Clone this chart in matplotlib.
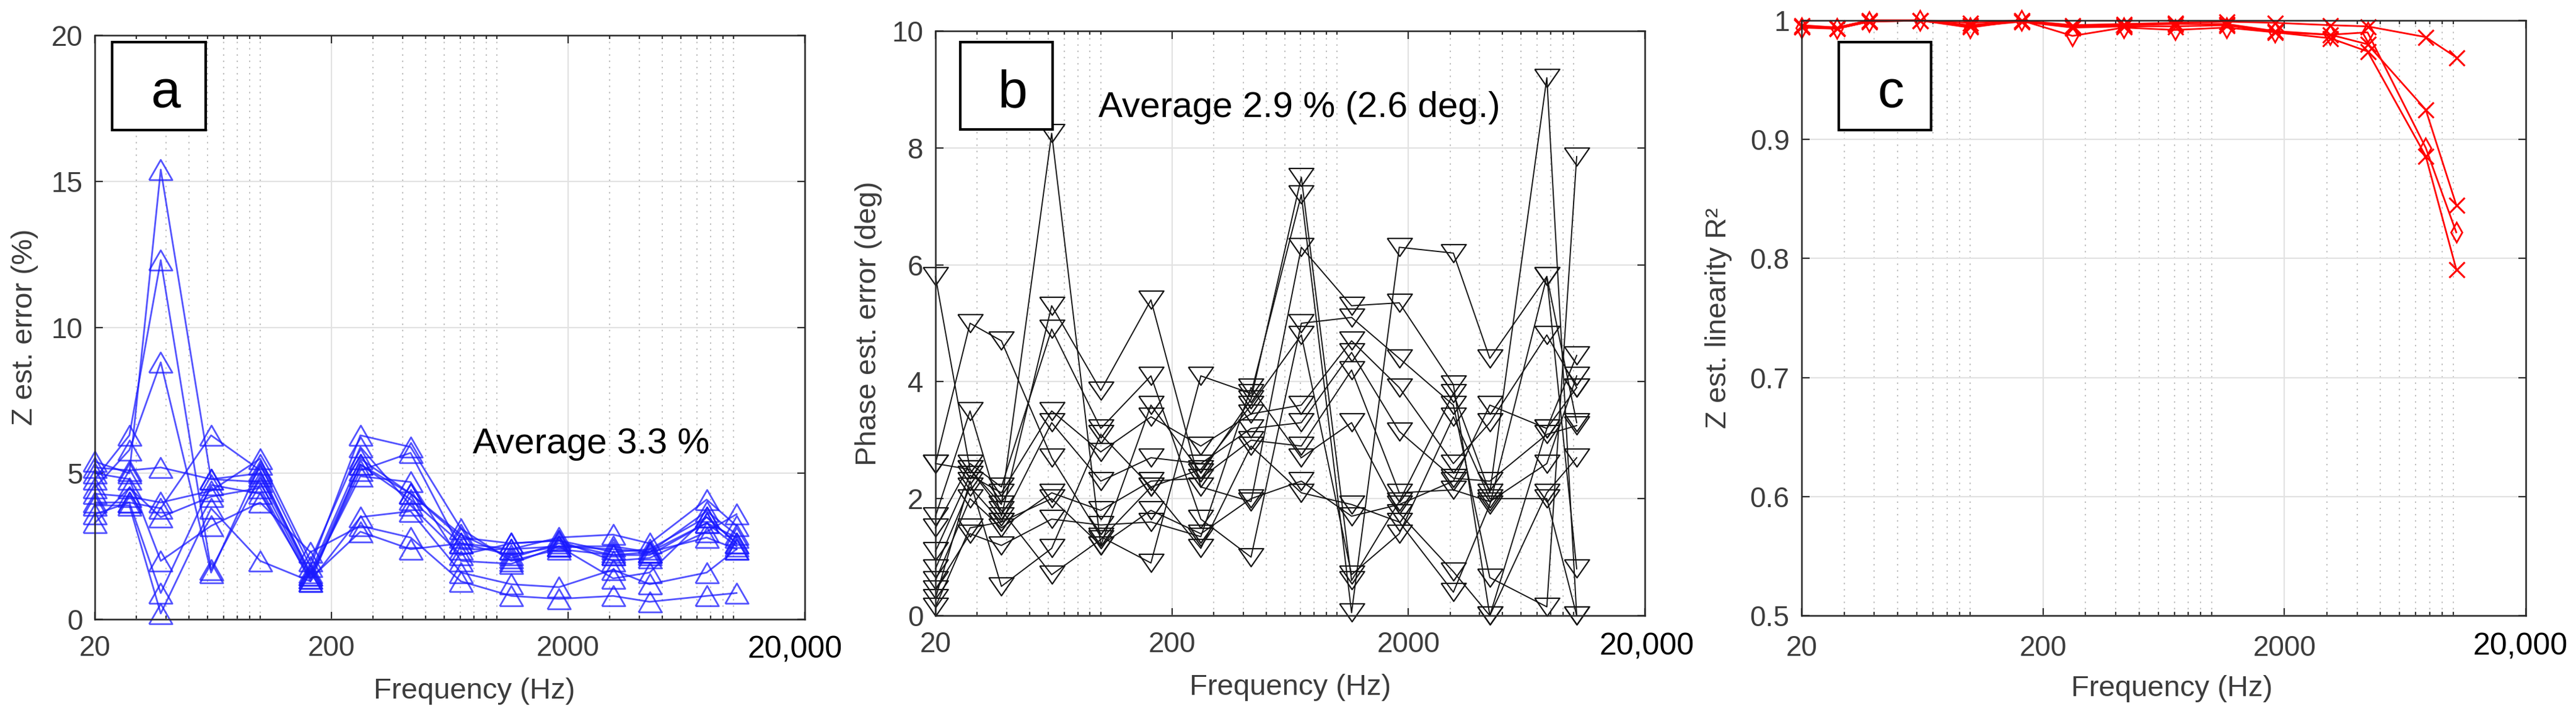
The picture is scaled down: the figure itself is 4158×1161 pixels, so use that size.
import numpy as np
import matplotlib.pyplot as plt
from matplotlib.patches import Rectangle
from matplotlib.ticker import FixedLocator, FixedFormatter, NullFormatter, NullLocator, FuncFormatter

plt.rcParams['font.family'] = ['Liberation Sans', 'DejaVu Sans']

W, H = 4158, 1161

# measurement frequencies (Hz), same for all three panels
freq = [20, 28, 38, 62, 100, 163, 265, 432, 705, 1150, 1830, 3100, 4420, 7700, 10300]

# panel a: Z estimation error (%)
z_err = [
    [5.4, 5.0, 15.4, 4.8, 5.0, 1.6, 5.5, 4.3, 2.8, 2.6, 2.7, 2.3, 2.4, 3.5, 2.6],
    [4.8, 6.3, 12.3, 1.7, 4.9, 1.5, 5.3, 4.1, 2.6, 2.2, 2.5, 2.5, 2.3, 3.7, 2.9],
    [4.5, 5.8, 8.8, 1.6, 5.3, 1.8, 6.3, 5.9, 3.1, 2.0, 2.4, 2.2, 2.2, 3.3, 2.5],
    [5.2, 5.1, 5.2, 4.8, 4.7, 1.4, 5.1, 5.7, 2.4, 2.4, 2.8, 2.9, 2.6, 4.1, 3.2],
    [4.3, 4.2, 4.0, 4.4, 5.5, 2.0, 5.9, 3.9, 2.2, 2.6, 2.7, 2.0, 2.1, 3.0, 3.6],
    [3.6, 4.0, 3.8, 6.3, 5.1, 1.5, 4.9, 4.7, 2.0, 1.9, 2.5, 2.4, 2.3, 2.8, 2.4],
    [3.3, 4.5, 3.5, 4.2, 4.5, 1.3, 3.5, 3.7, 1.6, 1.2, 1.1, 1.7, 1.2, 1.6, 2.4],
    [5.0, 4.8, 2.0, 3.2, 4.0, 2.3, 3.2, 2.8, 1.3, 0.8, 0.7, 0.8, 0.6, 0.8, 0.9],
    [4.0, 4.0, 0.9, 4.6, 4.3, 1.4, 3.0, 2.4, 2.6, 2.4, 2.5, 1.4, 1.6, 3.5, 2.6],
    [3.9, 3.9, 0.2, 3.8, 2.0, 1.3, 5.3, 4.3, 2.9, 2.1, 2.6, 2.2, 2.3, 3.3, 2.8],
]

# panel b: phase estimation error (deg)
ph_err = [
    [5.8, 2.5, 1.9, 8.25, 1.2, 3.6, 2.45, 3.7, 7.5, 0.6, 1.95, 3.8, 2.1, 9.2, 0.0],
    [2.6, 5.0, 4.7, 2.7, 1.35, 0.9, 4.1, 3.8, 7.2, 0.05, 6.3, 6.2, 4.4, 5.8, 0.8],
    [1.7, 3.5, 1.7, 5.3, 3.85, 5.4, 2.2, 1.95, 6.3, 5.3, 5.35, 3.95, 0.0, 3.2, 4.45],
    [1.5, 2.6, 2.2, 4.9, 3.2, 4.1, 1.65, 1.0, 5.0, 5.1, 4.4, 3.6, 0.65, 0.15, 7.85],
    [1.1, 2.4, 2.1, 3.5, 2.8, 3.4, 2.9, 3.45, 3.6, 4.7, 3.9, 2.6, 3.3, 4.8, 3.9],
    [0.8, 2.2, 1.6, 3.3, 2.3, 2.7, 2.6, 3.2, 3.3, 4.5, 3.15, 2.35, 2.3, 3.1, 3.25],
    [0.6, 2.0, 1.5, 2.1, 1.8, 2.3, 2.35, 3.0, 2.9, 4.2, 2.1, 2.15, 1.95, 2.6, 4.1],
    [0.45, 1.4, 1.2, 1.65, 1.55, 1.6, 1.35, 3.9, 2.7, 3.3, 1.75, 0.75, 0.0, 2.1, 2.7],
    [0.3, 2.3, 0.5, 1.15, 3.1, 2.2, 1.15, 2.9, 2.1, 1.9, 1.6, 0.4, 1.9, 5.8, 3.3],
    [2.6, 2.5, 1.8, 0.7, 1.3, 2.2, 2.5, 3.6, 4.8, 0.7, 1.4, 3.4, 2.0, 2.0, 0.0],
    [0.15, 1.5, 1.6, 2.0, 1.2, 1.8, 1.4, 2.0, 2.3, 1.7, 1.9, 2.3, 3.6, 3.2, 3.9],
]

# panel c: Z estimation linearity R^2
r2 = [
    [0.996, 0.994, 1.0, 1.0, 0.998, 1.0, 0.996, 0.997, 0.998, 0.999, 0.998, 0.996, 0.995, 0.986, 0.969],
    [0.995, 0.994, 1.0, 1.0, 0.996, 1.0, 0.995, 0.996, 0.997, 0.997, 0.991, 0.988, 0.980, 0.925, 0.845],
    [0.995, 0.993, 0.999, 1.0, 0.995, 0.999, 0.994, 0.995, 0.995, 0.996, 0.990, 0.985, 0.974, 0.886, 0.791],
]
r2_diamond = [0.994, 0.993, 0.999, 1.0, 0.994, 1.0, 0.987, 0.994, 0.992, 0.994, 0.990, 0.988, 0.990, 0.893, 0.822]

minor_x = [30, 40, 50, 60, 70, 80, 90, 100, 300, 400, 500, 600, 700, 800, 900, 1000,
           3000, 4000, 5000, 6000, 7000, 8000, 9000, 10000]

tick_col = '#3c3c3c'
tri_up = [(-1, -0.87), (1, -0.87), (0, 0.87), (-1, -0.87)]
tri_down = [(-1, 0.72), (1, 0.72), (0, -0.72), (-1, 0.72)]


def fig_rect(x0, y0, x1, y1):
    # pixel box -> figure fraction [left, bottom, width, height]
    return [x0 / W, 1 - y1 / H, (x1 - x0) / W, (y1 - y0) / H]


def style_axes(ax, ylim, yticks, ylabel, xlab_x, ylab_x, tick_y, end_x):
    ax.set_xscale('log')
    ax.set_xlim(20, 20000)
    ax.set_ylim(*ylim)
    ax.xaxis.set_major_locator(FixedLocator([20, 200, 2000, 20000]))
    ax.xaxis.set_major_formatter(FixedFormatter(['20', '200', '2000', '']))
    ax.xaxis.set_minor_locator(FixedLocator(minor_x))
    ax.xaxis.set_minor_formatter(NullFormatter())
    ax.yaxis.set_major_locator(FixedLocator(yticks))
    ax.yaxis.set_major_formatter(FuncFormatter(lambda v, p: '%g' % v))
    ax.yaxis.set_minor_locator(NullLocator())
    ax.set_axisbelow(True)
    ax.grid(True, which='major', color='#e2e2e2', lw=1.6, ls='-')
    ax.grid(True, which='minor', axis='x', color='#bdbdbd', lw=1.4, ls=(0, (1.2, 4)))
    ax.tick_params(which='both', direction='in', top=True, right=True,
                   width=1.6, color='#303030', labelcolor=tick_col, labelsize=33)
    ax.tick_params(which='major', length=9)
    ax.tick_params(which='minor', length=4.5)
    ax.tick_params(axis='x', pad=tick_y)
    ax.tick_params(axis='y', pad=14)
    for s in ax.spines.values():
        s.set_color('#262626')
        s.set_linewidth(1.8)
    ax.set_xlabel('Frequency (Hz)', fontsize=34, color=tick_col, va='center')
    ax.set_ylabel(ylabel, fontsize=34, color=tick_col, va='center')
    ax.xaxis.set_label_coords(xlab_x, -0.123)
    ax.yaxis.set_label_coords(ylab_x, 0.5)
    ax.text(end_x, -0.053, '20,000', transform=ax.transAxes, fontsize=36,
            color='black', ha='center', va='center')


fig = plt.figure(figsize=(W / 100, H / 100), dpi=100)

# panel a
ax1 = fig.add_axes(fig_rect(153, 57, 1299, 1000))
for s in z_err:
    ax1.plot(freq, s, color=(0.1, 0.1, 1.0), alpha=0.75, lw=2.0, marker=tri_up,
             ms=27, mfc='none', mec=(0.1, 0.1, 1.0), mew=2.0, clip_on=False)
style_axes(ax1, (0, 20), [0, 5, 10, 15, 20], 'Z est. error (%)', 0.535, -0.099, 18, 0.986)
ax1.text(790, 6.0, 'Average 3.3 %', fontsize=42, color='black', ha='left', va='center')

# panel b
ax2 = fig.add_axes(fig_rect(1510, 50, 2655, 994))
for s in ph_err:
    ax2.plot(freq, s, color='#151515', lw=1.4, marker=tri_down, ms=29,
             mfc='none', mec='#151515', mew=1.6, clip_on=False)
style_axes(ax2, (0, 10), [0, 2, 4, 6, 8, 10], 'Phase est. error (deg)', 0.5, -0.094, 18, 1.003)
ax2.text(98, 8.69, 'Average 2.9 % (2.6 deg.)', fontsize=42, color='black',
         ha='left', va='center')

# panel c
ax3 = fig.add_axes(fig_rect(2908, 33, 4077, 994))
for s in r2:
    ax3.plot(freq, s, color='red', lw=2.0, marker='x', ms=18, mew=2.2, clip_on=False)
ax3.plot(freq, r2_diamond, color='red', lw=2.0, marker='d', ms=16, mfc='none',
         mew=2.0, clip_on=False)
style_axes(ax3, (0.5, 1.0), [0.5, 0.6, 0.7, 0.8, 0.9, 1.0], 'Z est. linearity R²',
           0.511, -0.115, 22, 0.992)

# panel letter boxes
for (x0, y0, x1, y1), lx, letter in [((181, 68, 332, 210), 267, 'a'),
                                     ((1550, 68, 1699, 209), 1634, 'b'),
                                     ((2968, 68, 3117, 210), 3052, 'c')]:
    fig.add_artist(Rectangle((x0 / W, 1 - y1 / H), (x1 - x0) / W, (y1 - y0) / H,
                             transform=fig.transFigure, fc='white', ec='black',
                             lw=3.0, zorder=10))
    fig.text(lx / W, 1 - 173 / H, letter, fontsize=62, ha='center', va='baseline',
             color='black', zorder=11)

fig.savefig('out.png', dpi=100)
